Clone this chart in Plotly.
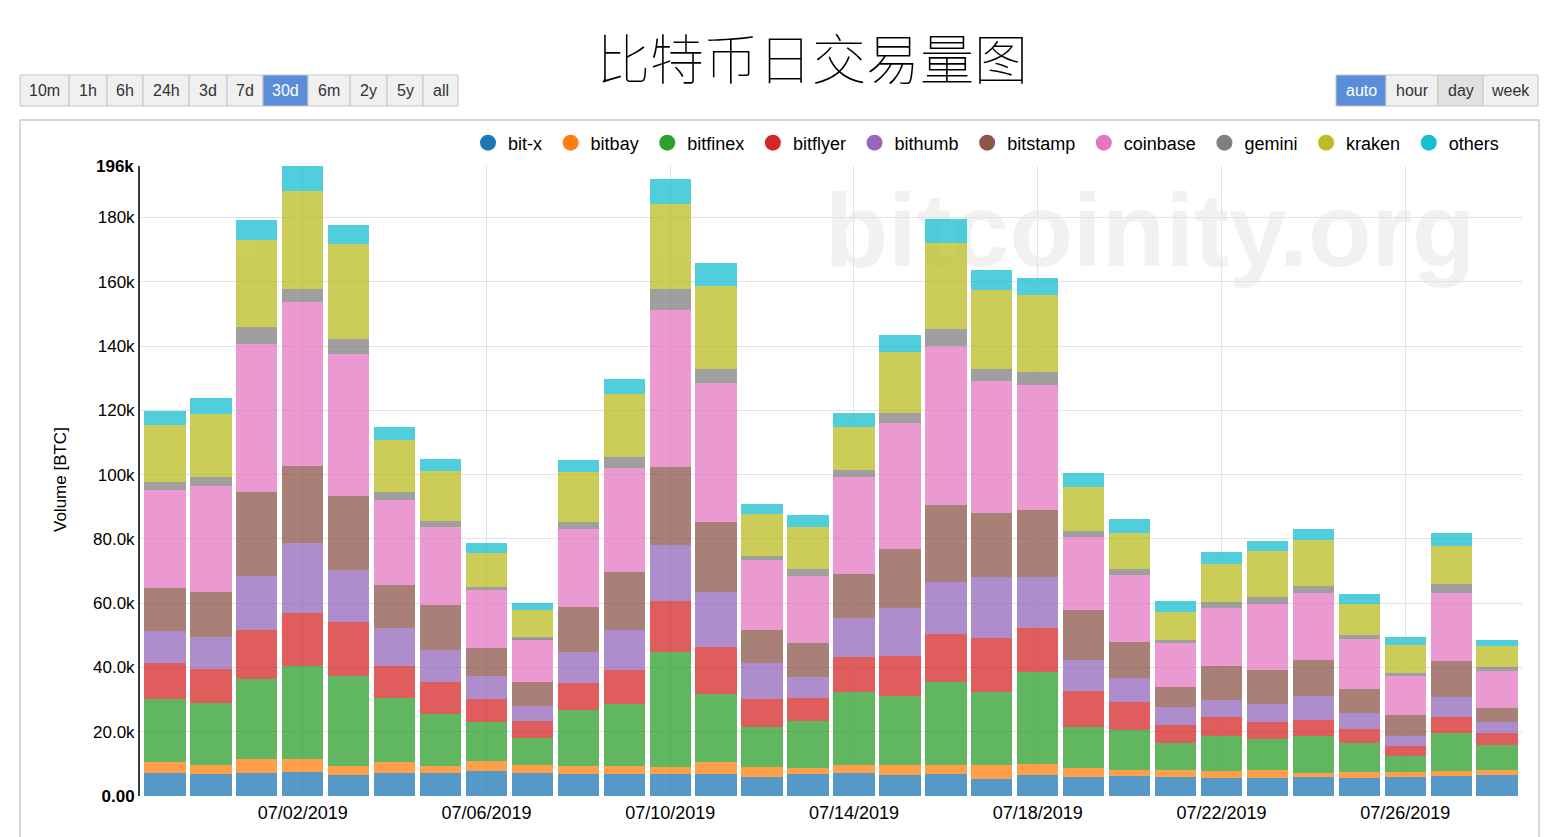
import plotly.graph_objects as go

# ---------------- data (BTC per day) ----------------
dates = ["2019-06-29", "2019-06-30", "2019-07-01", "2019-07-02", "2019-07-03", "2019-07-04",
         "2019-07-05", "2019-07-06", "2019-07-07", "2019-07-08", "2019-07-09", "2019-07-10",
         "2019-07-11", "2019-07-12", "2019-07-13", "2019-07-14", "2019-07-15", "2019-07-16",
         "2019-07-17", "2019-07-18", "2019-07-19", "2019-07-20", "2019-07-21", "2019-07-22",
         "2019-07-23", "2019-07-24", "2019-07-25", "2019-07-26", "2019-07-27", "2019-07-28"]

bit_x = [7200, 6900, 7100, 7400, 6500, 7100, 7300, 7800, 7300, 7000, 6700, 6700, 6700, 5900, 6700,
         7300, 6400, 6700, 5400, 6500, 5800, 6100, 6000, 5700, 5700, 5900, 5600, 5900, 6100, 6400]
bitbay = [3400, 2800, 4400, 4100, 2800, 3600, 2000, 3000, 2400, 2400, 2700, 2200, 3800, 3100, 1900,
          2400, 3200, 2900, 4100, 3400, 2800, 2000, 2100, 2100, 2300, 1300, 1800, 1500, 1700, 1800]
bitfinex = [19600, 19200, 24900, 28800, 28100, 19700, 16300, 12200, 8300, 17500, 19200, 35900, 21300, 12400, 14600,
            22600, 21400, 26000, 22900, 28800, 13000, 12300, 8300, 10900, 9800, 11500, 9100, 5000, 11800, 7600]
bitflyer = [11200, 10600, 15100, 16600, 16600, 10200, 9800, 7100, 5300, 8400, 10700, 15900, 14500, 8900, 7400,
            10800, 12700, 14900, 16800, 13500, 11100, 8800, 5800, 5900, 5200, 5100, 4300, 3200, 5000, 3800]
bithumb = [10000, 9900, 17000, 21800, 16400, 11700, 10100, 7100, 4700, 9500, 12300, 17500, 17300, 11000, 6400,
           12400, 14800, 16100, 19000, 16000, 9500, 7600, 5400, 5200, 5700, 7200, 5100, 3200, 6200, 3400]
bitstamp = [13400, 14100, 26000, 23900, 22800, 13200, 14000, 9000, 7400, 13900, 18000, 24300, 21500, 10400, 10500,
            13600, 18300, 24000, 19900, 20900, 15800, 11200, 6400, 10500, 10400, 11200, 7300, 6300, 11100, 4500]
coinbase = [30500, 32800, 46200, 51200, 44400, 26700, 24200, 18000, 13400, 24500, 32600, 48700, 43400, 21600, 21100,
            30200, 39200, 49400, 41000, 38900, 22500, 20700, 13500, 18200, 20700, 20900, 15500, 12200, 21400, 11400]
gemini = [2500, 3100, 5100, 3800, 4600, 2300, 2000, 800, 600, 2200, 3400, 6400, 4400, 1400, 2100,
          2100, 3100, 5300, 3800, 4000, 1900, 1900, 1000, 2000, 2100, 2100, 1300, 1100, 2700, 1200]
kraken = [17700, 19300, 27100, 30600, 29400, 16300, 15400, 10600, 8500, 15300, 19400, 26600, 25900, 13100, 13100,
          13500, 18900, 26700, 24600, 23800, 13800, 11200, 8900, 11800, 14300, 14400, 9800, 8500, 11700, 6600]
others = [4400, 5200, 6300, 8000, 6200, 4000, 3800, 3000, 2000, 3800, 4700, 7900, 6900, 3000, 3700,
          4300, 5400, 7500, 6300, 5300, 4200, 4400, 3300, 3600, 3000, 3600, 3100, 2700, 4200, 1900]

series_names = ["bit-x", "bitbay", "bitfinex", "bitflyer", "bithumb",
                "bitstamp", "coinbase", "gemini", "kraken", "others"]
series_values = [bit_x, bitbay, bitfinex, bitflyer, bithumb, bitstamp, coinbase, gemini, kraken, others]
series_colors = ["#1f77b4", "#ff7f0e", "#2ca02c", "#d62728", "#9467bd",
                 "#8c564b", "#e377c2", "#7f7f7f", "#bcbd22", "#17becf"]

x_tick_dates = ["2019-07-02", "2019-07-06", "2019-07-10", "2019-07-14",
                "2019-07-18", "2019-07-22", "2019-07-26"]
x_tick_labels = ["07/02/2019", "07/06/2019", "07/10/2019", "07/14/2019",
                 "07/18/2019", "07/22/2019", "07/26/2019"]
y_tick_vals = [0, 20000, 40000, 60000, 80000, 100000, 120000, 140000, 160000, 180000]
y_tick_labels = ["<b>0.00</b>", "20.0k", "40.0k", "60.0k", "80.0k",
                 "100k", "120k", "140k", "160k", "180k"]
y_max = 196000
y_max_label = "<b>196k</b>"

range_buttons = ["10m", "1h", "6h", "24h", "3d", "7d", "30d", "6m", "2y", "5y", "all"]
range_active = "30d"
group_buttons = ["auto", "hour", "day", "week"]
group_active = "auto"

# ---------------- layout geometry (pixels) ----------------
W, H = 1560, 837
ML, MR, MT, MB = 140, 38, 166, 41
PW, PH = W - ML - MR, H - MT - MB


def fx(p):
    return (p - ML) / PW


def fy(p):
    return (H - MB - p) / PH


FONT = "Liberation Sans, Arial, sans-serif"

fig = go.Figure()

for name, vals, col in zip(series_names, series_values, series_colors):
    fig.add_trace(go.Bar(x=dates, y=vals, name=name, marker=dict(color=col, line=dict(width=0)),
                         opacity=0.75, showlegend=False, legendgroup=name))
# legend entries with circle symbols
for name, col in zip(series_names, series_colors):
    fig.add_trace(go.Scatter(x=[None], y=[None], mode="markers", name=name + "\u2009",
                             legendgroup=name,
                             marker=dict(color=col, size=18, symbol="circle"), showlegend=True))

shapes = []
annotations = []

# outer frame
shapes.append(dict(type="rect", xref="paper", yref="paper", x0=fx(20), x1=fx(1539), y0=fy(905), y1=fy(120),
                   line=dict(color="#d8d8d8", width=2), fillcolor="rgba(0,0,0,0)", layer="below"))

# watermark
shapes.append(dict(type="rect", xref="paper", yref="paper", x0=fx(820), x1=fx(1480), y0=fy(285), y1=fy(155),
                   line=dict(width=0), fillcolor="rgba(0,0,0,0)", layer="below",
                   label=dict(text="bitcoinity.org", textposition="middle center",
                              font=dict(family=FONT, size=104, color="#f1f1f1", weight="bold"))))

# button groups
range_edges = [20, 69, 107, 143, 189, 227, 263, 308, 350, 387, 423, 458]
group_edges = [1336, 1386, 1438, 1483, 1538]


def add_buttons(labels, edges, active, pressed=None):
    for i, lab in enumerate(labels):
        x0, x1 = edges[i], edges[i + 1]
        if lab == active:
            fill, tc = "#5b8ed8", "#ffffff"
        elif lab == pressed:
            fill, tc = "#e1e1e1", "#333333"
        else:
            fill, tc = "#f0f0f0", "#333333"
        shapes.append(dict(type="rect", xref="paper", yref="paper", x0=fx(x0), x1=fx(x1),
                           y0=fy(106), y1=fy(75), line=dict(color="#c6c6c6", width=1), fillcolor=fill,
                           layer="above"))
        annotations.append(dict(xref="paper", yref="paper", x=fx((x0 + x1) / 2), y=fy(90.5),
                                text=lab, showarrow=False, xanchor="center", yanchor="middle",
                                font=dict(family=FONT, size=16, color=tc)))


add_buttons(range_buttons, range_edges, range_active)
add_buttons(group_buttons, group_edges, group_active, pressed="day")

# title
annotations.append(dict(xref="paper", yref="paper", x=fx(812), y=fy(57), text="比特币日交易量图",
                        showarrow=False, xanchor="center", yanchor="middle",
                        font=dict(family="Noto Sans CJK SC", size=54, color="#000000", weight=100)))
# y axis title
annotations.append(dict(xref="paper", yref="paper", x=fx(60), y=fy(480), text="Volume [BTC]",
                        showarrow=False, textangle=-90, xanchor="center", yanchor="middle",
                        font=dict(family=FONT, size=17, color="#000000")))
# max label
annotations.append(dict(xref="paper", yref="paper", x=fx(136), y=fy(166), text=y_max_label,
                        showarrow=False, xanchor="right", yanchor="middle",
                        font=dict(family=FONT, size=17, color="#000000")))

fig.update_layout(
    width=W, height=H,
    margin=dict(l=ML, r=MR, t=MT, b=MB, pad=0),
    paper_bgcolor="#ffffff", plot_bgcolor="#ffffff",
    barmode="stack", bargap=0.1,
    font=dict(family=FONT, size=17, color="#000000"),
    showlegend=True,
    legend=dict(orientation="h", x=fx(468), y=fy(143), xanchor="left", yanchor="middle",
                font=dict(family=FONT, size=18, color="#000000"), bgcolor="rgba(0,0,0,0)",
                itemsizing="trace", traceorder="normal"),
    xaxis=dict(type="date", range=["2019-06-28 11:00", "2019-07-28 13:00"],
               tickvals=x_tick_dates, ticktext=x_tick_labels, showgrid=True, gridcolor="#e3e3e3",
               gridwidth=1, showline=False, ticks="", zeroline=False, ticklabelstandoff=4,
               tickfont=dict(family=FONT, size=18, color="#000000")),
    yaxis=dict(range=[0, y_max], tickvals=y_tick_vals, ticktext=y_tick_labels, showgrid=True,
               gridcolor="#e3e3e3", gridwidth=1, showline=True, linecolor="#3c3c3c", linewidth=2,
               ticks="", zeroline=False, tickfont=dict(family=FONT, size=17, color="#000000")),
    shapes=shapes, annotations=annotations,
)

fig.write_html("out.html", config={"displayModeBar": False},
               post_script="document.body.style.margin='0';")
